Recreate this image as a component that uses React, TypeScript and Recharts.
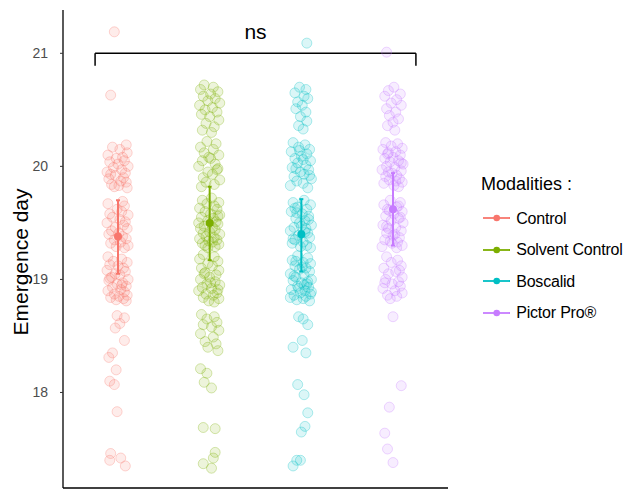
import React from 'react';
import { ScatterChart, Scatter, XAxis, YAxis, ErrorBar, ReferenceLine, Legend } from 'recharts';

const FONT = '"Liberation Sans", Arial, Helvetica, sans-serif';

const categories = ['Control', 'Solvent Control', 'Boscalid', 'Pictor Pro®'];
const colors = ['#F8766D', '#7CAE00', '#00BFC4', '#C77CFF'];
const meanValues = [19.38, 19.5, 19.4, 19.62];
const ciLow = [19.05, 19.17, 19.07, 19.3];
const ciHigh = [19.7, 19.82, 19.71, 19.94];
const yTicks = [18, 19, 20, 21];
const yDomain: [number, number] = [17.155, 21.383];
const xDomain: [number, number] = [0.4, 4.6];
const bracketFrom = 0.75;
const bracketTo = 4.25;
const bracketY = 21;
const bracketTickEnd = 20.89;
const bracketLabel = 'ns';

// [value, horizontal jitter]
const controlPoints: [number, number][] = [
  [21.19, -0.04], [20.63, -0.08],
  [20.19, 0.09], [20.17, -0.06], [20.15, 0.02], [20.12, 0.1], [20.1, -0.11], [20.08, 0.05], [20.07, -0.02], [20.05, 0.07],
  [20.04, -0.09], [20.02, 0.0], [20.0, 0.11], [19.99, -0.05], [19.97, 0.04], [19.95, -0.12], [19.94, 0.08], [19.92, -0.03], [19.9, 0.06], [19.89, -0.1],
  [19.87, 0.03], [19.86, 0.09], [19.84, -0.07], [19.83, 0.01], [19.82, -0.04], [19.81, 0.1], [19.93, -0.08],
  [19.69, 0.05], [19.67, -0.11], [19.65, 0.07], [19.62, -0.01], [19.6, 0.04], [19.58, -0.09], [19.57, 0.11], [19.55, -0.06], [19.53, 0.02], [19.51, 0.08],
  [19.5, -0.12], [19.48, 0.06], [19.46, -0.03], [19.45, 0.1], [19.43, -0.07], [19.41, 0.01], [19.4, -0.1], [19.38, 0.05], [19.36, 0.09], [19.35, -0.04],
  [19.33, 0.03], [19.32, -0.08], [19.3, 0.11], [19.29, -0.02], [19.28, 0.07],
  [19.2, -0.11], [19.18, 0.04], [19.16, -0.05], [19.15, 0.1], [19.13, -0.09], [19.12, 0.0], [19.1, 0.06], [19.08, -0.12], [19.07, 0.08], [19.05, -0.03],
  [19.04, 0.02], [19.02, -0.07], [19.0, 0.11], [18.99, -0.1], [18.97, 0.05], [18.96, -0.01], [18.94, 0.09], [18.93, -0.06], [18.91, 0.03], [18.9, -0.11],
  [18.89, 0.07], [18.87, -0.04], [18.86, 0.1], [18.85, 0.01], [18.84, -0.08], [18.83, 0.06], [18.82, -0.02], [18.81, 0.09], [19.01, -0.09], [18.95, 0.04],
  [18.68, -0.01], [18.66, 0.07], [18.61, 0.02], [18.57, -0.03], [18.46, 0.07], [18.35, -0.06], [18.31, -0.1], [18.2, -0.02], [18.1, -0.09], [18.07, -0.04],
  [17.83, -0.01], [17.46, -0.08], [17.42, 0.03], [17.4, -0.09], [17.35, 0.08],
];

const solventPoints: [number, number][] = [
  [20.72, -0.06], [20.7, 0.04], [20.68, -0.1], [20.66, 0.09], [20.64, 0.01], [20.62, -0.07], [20.6, 0.06], [20.58, -0.02], [20.56, 0.11], [20.54, -0.11],
  [20.52, 0.03], [20.5, -0.05], [20.48, 0.08], [20.46, -0.09], [20.44, 0.0], [20.41, 0.1], [20.38, -0.04], [20.35, 0.05], [20.32, -0.08], [20.3, 0.02],
  [20.22, -0.03], [20.2, 0.07], [20.17, -0.1], [20.15, 0.04], [20.12, -0.06], [20.1, 0.1], [20.07, 0.01], [20.05, -0.08], [20.02, 0.06], [20.0, -0.12],
  [19.98, 0.09], [19.95, -0.02], [19.93, 0.03], [19.9, -0.07], [19.88, 0.11], [19.86, -0.04], [19.84, 0.05], [19.82, -0.09], [20.08, -0.01], [19.97, 0.08],
  [19.72, 0.02], [19.7, -0.08], [19.68, 0.1], [19.67, -0.03], [19.65, 0.05], [19.63, -0.11], [19.62, 0.08], [19.6, -0.05], [19.58, 0.01], [19.57, 0.11],
  [19.55, -0.09], [19.54, 0.04], [19.52, -0.02], [19.51, 0.07], [19.5, -0.12], [19.49, 0.09], [19.47, -0.06], [19.46, 0.03], [19.45, -0.1], [19.44, 0.06],
  [19.42, 0.0], [19.41, -0.07], [19.4, 0.11], [19.38, -0.04], [19.37, 0.05], [19.36, -0.11], [19.35, 0.08], [19.34, -0.01], [19.33, 0.03], [19.32, -0.08],
  [19.31, 0.1], [19.3, -0.05], [19.29, 0.06], [19.28, -0.02], [19.56, 0.09],
  [19.22, -0.07], [19.2, 0.05], [19.18, -0.11], [19.16, 0.09], [19.14, -0.02], [19.12, 0.03], [19.1, -0.09], [19.08, 0.1], [19.06, -0.05], [19.04, 0.07],
  [19.02, 0.0], [19.0, -0.1], [18.98, 0.06], [18.96, -0.03], [18.95, 0.11], [18.93, -0.08], [18.92, 0.02], [18.9, -0.12], [18.88, 0.08], [18.87, -0.04],
  [18.86, 0.04], [18.84, -0.07], [18.83, 0.1], [18.81, -0.01], [18.8, 0.05], [19.05, -0.06], [18.97, 0.01], [18.91, 0.09],
  [18.69, -0.09], [18.67, 0.05], [18.65, -0.03], [18.62, 0.08], [18.6, -0.07], [18.58, 0.02], [18.55, 0.1], [18.52, -0.1], [18.49, 0.04], [18.45, -0.05],
  [18.43, 0.07], [18.4, -0.02], [18.37, 0.09], [18.21, -0.1], [18.17, -0.03], [18.09, -0.06], [18.04, 0.02], [17.69, -0.07], [17.68, 0.06], [17.47, 0.06],
  [17.42, 0.04], [17.37, -0.07], [17.33, 0.02],
];

const boscalidPoints: [number, number][] = [
  [21.09, 0.06],
  [20.7, -0.02], [20.68, 0.05], [20.65, -0.07], [20.62, 0.03], [20.6, 0.07], [20.57, -0.04], [20.54, 0.01], [20.51, -0.06], [20.48, 0.05], [20.44, -0.01],
  [20.4, 0.06], [20.36, -0.03], [20.33, 0.02],
  [20.21, -0.09], [20.19, 0.04], [20.17, -0.03], [20.15, 0.09], [20.13, -0.11], [20.11, 0.06], [20.09, 0.0], [20.07, -0.07], [20.05, 0.1], [20.03, -0.04],
  [20.01, 0.05], [19.99, -0.1], [19.97, 0.08], [19.95, -0.01], [19.93, 0.03], [19.91, -0.08], [19.89, 0.11], [19.87, -0.05], [19.85, 0.02], [19.83, -0.12],
  [19.81, 0.07], [20.06, 0.02], [19.98, -0.06], [19.92, 0.09], [20.14, -0.02],
  [19.7, 0.03], [19.68, -0.09], [19.66, 0.1], [19.64, -0.04], [19.62, 0.06], [19.6, -0.11], [19.58, 0.01], [19.56, 0.08], [19.54, -0.06], [19.52, 0.04],
  [19.5, -0.02], [19.48, 0.11], [19.46, -0.08], [19.45, 0.05], [19.43, -0.12], [19.41, 0.07], [19.39, -0.03], [19.37, 0.09], [19.35, -0.07], [19.33, 0.02],
  [19.32, -0.1], [19.3, 0.06], [19.29, -0.01], [19.28, 0.1], [19.59, -0.05], [19.47, 0.0], [19.42, 0.04], [19.36, -0.09], [19.53, 0.08], [19.63, -0.07],
  [19.21, -0.04], [19.19, 0.07], [19.17, -0.1], [19.15, 0.02], [19.14, 0.1], [19.12, -0.07], [19.1, 0.05], [19.09, -0.02], [19.07, 0.09], [19.05, -0.12],
  [19.04, 0.03], [19.02, -0.06], [19.0, 0.11], [18.99, -0.09], [18.97, 0.0], [18.96, 0.06], [18.94, -0.04], [18.93, 0.08], [18.91, -0.11], [18.9, 0.04],
  [18.88, -0.01], [18.87, 0.1], [18.86, -0.08], [18.85, 0.05], [18.84, -0.12], [18.83, 0.02], [18.82, -0.05], [18.81, 0.09], [19.11, 0.01], [19.03, -0.08],
  [18.98, 0.07], [18.92, -0.03], [18.89, 0.11], [19.16, -0.06], [18.95, 0.03],
  [18.67, -0.03], [18.65, 0.02], [18.6, 0.07], [18.46, 0.01], [18.4, -0.09], [18.35, 0.05], [18.07, -0.04], [17.98, 0.03], [17.82, 0.07], [17.7, 0.04],
  [17.65, 0.0], [17.4, -0.05], [17.4, -0.01], [17.35, -0.09],
];

const pictorPoints: [number, number][] = [
  [21.01, -0.07],
  [20.7, 0.01], [20.67, -0.05], [20.64, 0.08], [20.62, -0.09], [20.59, 0.04], [20.56, -0.02], [20.54, 0.09], [20.51, -0.07], [20.48, 0.03], [20.45, -0.04],
  [20.42, 0.06], [20.39, 0.0], [20.36, -0.06], [20.32, 0.02],
  [20.21, -0.08], [20.2, 0.05], [20.18, -0.02], [20.16, 0.1], [20.15, -0.11], [20.13, 0.03], [20.12, -0.05], [20.1, 0.08], [20.08, 0.0], [20.07, -0.09],
  [20.05, 0.06], [20.04, -0.03], [20.02, 0.11], [20.0, -0.07], [19.99, 0.02], [19.97, -0.12], [19.96, 0.09], [19.94, -0.01], [19.92, 0.04], [19.91, -0.08],
  [19.89, 0.07], [19.88, -0.04], [19.86, 0.1], [19.85, -0.1], [19.83, 0.01], [19.82, 0.06], [20.11, -0.06], [20.03, 0.09], [19.95, -0.05], [19.87, 0.03],
  [19.7, -0.03], [19.68, 0.08], [19.66, -0.1], [19.64, 0.04], [19.62, -0.06], [19.6, 0.1], [19.58, 0.01], [19.56, -0.08], [19.54, 0.06], [19.52, -0.02],
  [19.5, 0.11], [19.48, -0.11], [19.46, 0.03], [19.45, -0.05], [19.43, 0.09], [19.41, -0.07], [19.39, 0.0], [19.37, 0.07], [19.35, -0.09], [19.33, 0.05],
  [19.32, -0.01], [19.3, 0.1], [19.29, -0.12], [19.28, 0.04], [19.61, -0.04], [19.55, 0.08], [19.47, -0.07], [19.4, 0.02], [19.34, -0.03], [19.65, 0.06],
  [19.2, -0.07], [19.17, 0.05], [19.15, -0.02], [19.12, 0.09], [19.1, -0.1], [19.07, 0.03], [19.05, -0.05], [19.02, 0.1], [19.0, -0.08], [18.98, 0.06],
  [18.96, -0.01], [18.94, 0.08], [18.92, -0.11], [18.9, 0.02], [18.88, 0.1], [18.86, -0.06], [18.85, 0.04], [18.83, -0.03], [19.08, 0.07], [18.97, -0.09],
  [18.67, 0.0], [18.06, 0.09], [17.87, -0.04], [17.64, -0.09], [17.5, -0.06], [17.38, 0.0],
];

const groupPoints = [controlPoints, solventPoints, boscalidPoints, pictorPoints];

const makeJitterDot = (color: string) => (props: any) => {
  if (props.cx == null || props.cy == null) return <g />;
  return (
    <circle
      cx={props.cx}
      cy={props.cy}
      r={5}
      fill={color}
      fillOpacity={0.14}
      stroke={color}
      strokeOpacity={0.3}
      strokeWidth={1}
    />
  );
};

const makeMeanDot = (color: string) => (props: any) => {
  if (props.cx == null || props.cy == null) return <g />;
  return <circle cx={props.cx} cy={props.cy} r={4} fill={color} />;
};

const LegendBox = () => (
  <div style={{ position: 'relative', width: 145, height: 170, fontFamily: FONT, color: '#000' }}>
    <div style={{ position: 'absolute', left: 3, top: 7, fontSize: 18, lineHeight: '18px', whiteSpace: 'nowrap' }}>
      Modalities :
    </div>
    {categories.map((c, i) => {
      const top = 42.2 + i * 31.5;
      return (
        <React.Fragment key={c}>
          <svg
            width={30}
            height={16}
            style={{ position: 'absolute', left: 5, top: top, overflow: 'visible' }}
          >
            <line x1={0} y1={8} x2={27} y2={8} stroke={colors[i]} strokeWidth={1.8} />
            <circle cx={13.7} cy={8} r={3.3} fill={colors[i]} />
          </svg>
          <div
            style={{
              position: 'absolute',
              left: 38.2,
              top: top + 0.3,
              fontSize: 16,
              lineHeight: '16px',
              letterSpacing: '-0.2px',
              whiteSpace: 'nowrap',
            }}
          >
            {c}
          </div>
        </React.Fragment>
      );
    })}
  </div>
);

const YLabel = () => (
  <text
    x={19.5}
    y={254}
    transform="rotate(-90, 19.5, 254)"
    textAnchor="middle"
    fontSize={21}
    fontFamily={FONT}
    fill="#000"
  >
    Emergence day
  </text>
);

export default function App() {
  return (
    <div style={{ width: 615, height: 483, fontFamily: FONT }}>
      <ScatterChart width={615} height={483} margin={{ top: 2, right: 175, left: 0, bottom: 2 }}>
        <XAxis
          type="number"
          dataKey="x"
          domain={xDomain}
          allowDataOverflow
          tick={false}
          tickLine={false}
          height={1}
          axisLine={{ stroke: '#000', strokeWidth: 1.3 }}
        />
        <YAxis
          type="number"
          dataKey="y"
          domain={yDomain}
          allowDataOverflow
          ticks={yTicks}
          width={55}
          tickSize={3}
          tickMargin={12}
          tick={{ fill: '#4D4D4D', fontSize: 14, fontFamily: FONT }}
          tickLine={{ stroke: '#333', strokeWidth: 1 }}
          axisLine={{ stroke: '#000', strokeWidth: 1.3 }}
          label={<YLabel />}
        />
        {groupPoints.map((pts, i) => (
          <Scatter
            key={'pts-' + categories[i]}
            name={categories[i]}
            data={pts.map(([v, j]) => ({ x: i + 1 + j, y: v }))}
            shape={makeJitterDot(colors[i])}
            isAnimationActive={false}
            legendType="none"
          />
        ))}
        {categories.map((c, i) => (
          <Scatter
            key={'mean-' + c}
            name={c}
            data={[{ x: i + 1, y: meanValues[i], err: [meanValues[i] - ciLow[i], ciHigh[i] - meanValues[i]] }]}
            shape={makeMeanDot(colors[i])}
            isAnimationActive={false}
          >
            <ErrorBar dataKey="err" direction="y" width={2} stroke={colors[i]} strokeWidth={2} isAnimationActive={false} />
          </Scatter>
        ))}
        <ReferenceLine
          segment={[{ x: bracketFrom, y: bracketY }, { x: bracketTo, y: bracketY }]}
          stroke="#000"
          strokeWidth={1.5}
          ifOverflow="visible"
          label={{ value: bracketLabel, position: 'top', offset: 14, fontSize: 21, fill: '#000', fontFamily: FONT }}
        />
        <ReferenceLine
          segment={[{ x: bracketFrom, y: bracketY }, { x: bracketFrom, y: bracketTickEnd }]}
          stroke="#000"
          strokeWidth={1.5}
          ifOverflow="visible"
        />
        <ReferenceLine
          segment={[{ x: bracketTo, y: bracketY }, { x: bracketTo, y: bracketTickEnd }]}
          stroke="#000"
          strokeWidth={1.5}
          ifOverflow="visible"
        />
        <Legend
          layout="vertical"
          align="right"
          verticalAlign="top"
          wrapperStyle={{ left: 470, top: 160, width: 0, height: 0, overflow: 'visible' }}
          content={() => <LegendBox />}
        />
      </ScatterChart>
    </div>
  );
}
